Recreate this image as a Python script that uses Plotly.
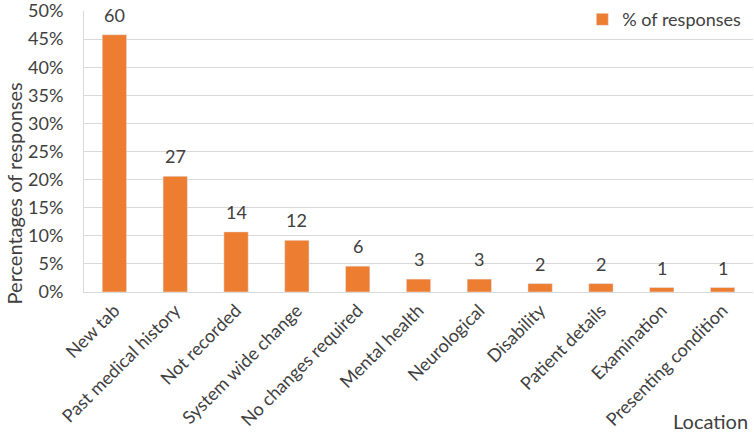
import plotly.graph_objects as go

categories = ["New tab", "Past medical history", "Not recorded", "System wide change",
              "No changes required", "Mental health", "Neurological", "Disability",
              "Patient details", "Examination", "Presenting condition"]
percent_values = [45.8, 20.6, 10.7, 9.2, 4.6, 2.3, 2.3, 1.5, 1.5, 0.8, 0.8]
count_labels = ["60", "27", "14", "12", "6", "3", "3", "2", "2", "1", "1"]
y_ticks = [0, 5, 10, 15, 20, 25, 30, 35, 40, 45, 50]
y_tick_labels = [f"{t}%" for t in y_ticks]

FONT = "Lato"
COL = "#404040"
fig = go.Figure()
fig.add_trace(go.Bar(
    x=categories, y=percent_values, name="% of responses",
    marker=dict(color="#ED7D31"), cliponaxis=False,
))
annotations = [
    dict(x=c, y=v, text=t, xref="x", yref="y", showarrow=False,
         xanchor="center", yanchor="bottom", yshift=7,
         font=dict(family=FONT, size=18, color=COL))
    for c, v, t in zip(categories, percent_values, count_labels)
]
annotations += [
    dict(text="Location", x=0.995, y=-0.46, xref="paper", yref="paper",
         xanchor="right", yanchor="middle", showarrow=False,
         font=dict(family=FONT, size=20, color=COL)),
    dict(text="Percentages of responses", x=-0.105, y=0.35, xref="paper", yref="paper",
         xanchor="center", yanchor="middle", textangle=-90, showarrow=False,
         font=dict(family=FONT, size=20, color=COL)),
]
fig.update_layout(
    width=754, height=435,
    margin=dict(l=84, r=1, t=11, b=143, autoexpand=False),
    paper_bgcolor="white", plot_bgcolor="white",
    bargap=0.6,
    font=dict(family=FONT, size=18, color=COL),
    showlegend=True,
    legend=dict(x=0.99, y=1.035, xanchor="right", yanchor="top",
                font=dict(family=FONT, size=18, color=COL),
                itemwidth=30, bgcolor="rgba(0,0,0,0)"),
    xaxis=dict(tickangle=-45, showline=True, linecolor="#d9d9d9", linewidth=1,
               automargin=False,
               tickfont=dict(family=FONT, size=18, color=COL), ticks=""),
    yaxis=dict(range=[0, 50.01], tickvals=y_ticks, ticktext=y_tick_labels,
               showgrid=True, gridcolor="#d9d9d9", zeroline=False,
               showline=True, linecolor="#d9d9d9", automargin=False,
               ticklabelstandoff=16, ticklabeloverflow="allow",
               tickfont=dict(family=FONT, size=18, color=COL)),
    annotations=annotations,
)
fig.write_html("out.html", config={"displayModeBar": False},
               post_script="document.body.style.margin='0';document.body.style.overflow='hidden';")
